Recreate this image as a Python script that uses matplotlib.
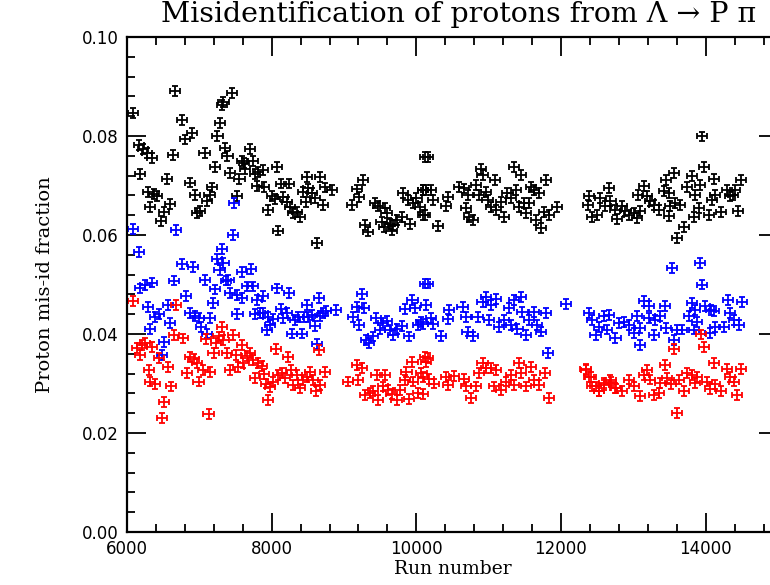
import numpy as np
import matplotlib
matplotlib.use("Agg")
import matplotlib.pyplot as plt
from matplotlib.ticker import MultipleLocator

# run number / mis-id fraction
black_run = [6083, 6161, 6221, 6276, 6345, 6184, 6285, 6368, 6414, 6313, 6506, 6598, 6469, 6552, 6635,
             6667, 6759, 6805, 6897, 6865, 6943, 6966, 7012, 7072, 7104, 7141, 7173, 7219, 7251, 7288,
             7311, 7334, 7454, 7357, 7389, 7426, 7518, 7555, 7587, 7619, 7702, 7739, 7633, 7771, 7817,
             7877, 7794, 7895, 8070, 7955, 8001, 8047, 8125, 8245, 8162, 8208, 8254, 8300, 8346, 8392,
             8093, 8484, 8438, 8507, 8553, 8599, 8475, 8668, 8737, 8705, 8829, 8622,
             9105, 9174, 9266, 9211, 9289, 9335, 9427, 9473, 9565, 9588, 9519, 9551, 9634, 9680, 9657,
             9726, 9795, 9910, 9818, 9887, 9956, 10002, 10048, 10094, 10117, 10117,
             10156, 10087, 10133, 10202, 10225, 10087, 10294, 10432, 10409, 10593, 10662, 10708, 10685,
             10731, 10777, 10823, 10892, 10915, 10869, 10961, 10984, 11030, 11090, 11099, 11168, 11214,
             11260, 11306, 11352, 11375, 11421, 11444, 11490, 11513, 11559, 11582, 11628, 11697, 11651,
             11720, 11789, 11766, 11835, 11950,
             12385, 12376, 12431, 12500, 12546, 12661, 12615, 12684, 12753, 12776, 12845, 12891, 12937,
             13006, 13052, 13098, 13066, 13144, 13190, 13236, 13282, 13351, 13420, 13452, 13558, 13489,
             13512, 13498, 13581, 13650, 13604, 13696, 13742, 13811, 13857, 13834, 13903, 13926, 13949,
             13972, 14041, 14087, 14110, 14133, 14216, 14294, 14340, 14372, 14400, 14446, 14492]
black_val = [0.0846, 0.0782, 0.0773, 0.0765, 0.0756, 0.0724, 0.0686, 0.0683, 0.0679, 0.0657, 0.0647, 0.0662,
             0.0629, 0.0713, 0.0761, 0.0891, 0.0832, 0.0793, 0.0806, 0.0706, 0.0681, 0.0645, 0.0649, 0.0765,
             0.0669, 0.0681, 0.0696, 0.0738, 0.0800, 0.0827, 0.0862, 0.0869, 0.0887, 0.0775, 0.0759, 0.0726,
             0.0679, 0.0713, 0.0750, 0.0745, 0.0773, 0.0750, 0.0734, 0.0724, 0.0728, 0.0731, 0.0699, 0.0697,
             0.0738, 0.0650, 0.0679, 0.0672, 0.0704, 0.0704, 0.0677, 0.0667, 0.0657, 0.0644, 0.0647, 0.0637,
             0.0609, 0.0718, 0.0687, 0.0694, 0.0684, 0.0674, 0.0667, 0.0718, 0.0696, 0.0660, 0.0691, 0.0584,
             0.0660, 0.0692, 0.0711, 0.0676, 0.0620, 0.0607, 0.0665, 0.0658, 0.0654, 0.0644, 0.0627, 0.0617,
             0.0623, 0.0620, 0.0609, 0.0630, 0.0637, 0.0623, 0.0684, 0.0670, 0.0664, 0.0674, 0.0657, 0.0691,
             0.0758, 0.0640,
             0.0758, 0.0691, 0.0691, 0.0691, 0.0670, 0.0640, 0.0618, 0.0677, 0.0658, 0.0697, 0.0694, 0.0681,
             0.0654, 0.0637, 0.0630, 0.0701, 0.0734, 0.0721, 0.0681, 0.0687, 0.0670, 0.0657, 0.0711, 0.0650,
             0.0667, 0.0637, 0.0684, 0.0674, 0.0738, 0.0691, 0.0657, 0.0721, 0.0664, 0.0644, 0.0664, 0.0697,
             0.0691, 0.0684, 0.0630, 0.0615, 0.0711, 0.0647, 0.0640, 0.0657,
             0.0678, 0.0661, 0.0637, 0.0641, 0.0674, 0.0695, 0.0658, 0.0668, 0.0651, 0.0632, 0.0658, 0.0648,
             0.0641, 0.0644, 0.0634, 0.0648, 0.0681, 0.0699, 0.0678, 0.0668, 0.0661, 0.0651, 0.0688, 0.0711,
             0.0725, 0.0685, 0.0658, 0.0639, 0.0664, 0.0661, 0.0594, 0.0617, 0.0697, 0.0720, 0.0681, 0.0636,
             0.0654, 0.0701, 0.0799, 0.0738, 0.0641, 0.0671, 0.0713, 0.0681, 0.0646, 0.0691, 0.0678, 0.0681,
             0.0690, 0.0648, 0.0711]

blue_run = [6083, 6161, 6184, 6253, 6345, 6285, 6391, 6437, 6322, 6506, 6483, 6561, 6598, 6644, 6681,
            6759, 6819, 6911, 6874, 6943, 6989, 7021, 7081, 7104, 7141, 7187, 7219, 7242, 7279, 7311,
            7334, 7371, 7403, 7463, 7481, 7426, 7518, 7587, 7527, 7587, 7711, 7656, 7739, 7771, 7794,
            7886, 7840, 7886, 7955, 7932, 7978, 8024, 8070, 8125, 8162, 8208, 8245, 8277, 8323, 8369,
            8415, 8447, 8493, 8507, 8553, 8599, 8659, 8668, 8714, 8751, 8631, 8889,
            9128, 9174, 9211, 9243, 9275, 9303, 9349, 9404, 9441, 9496, 9542, 9588, 9634, 9680, 9726,
            9795, 9841, 9901, 9947, 9979, 10025, 10071, 10117,
            10156, 10133, 10087, 10202, 10225, 10340, 10432, 10455, 10639, 10685, 10708, 10777, 10846,
            10915, 10961, 11030, 11099, 11007, 11145, 11214, 11283, 11352, 11444, 11306, 11398, 11467,
            11513, 11559, 11628, 11674, 11720, 11789, 11826, 12074,
            12385, 12431, 12477, 12523, 12592, 12661, 12638, 12753, 12799, 12868, 12937, 13006, 13052,
            13098, 13098, 13144, 13213, 13213, 13282, 13305, 13374, 13443, 13452, 13535, 13558, 13604,
            13673, 13765, 13811, 13857, 13880, 13834, 13926, 13949, 13995, 14078, 14110, 14064, 14133,
            14248, 14308, 14340, 14386, 14455, 14501]
blue_val = [0.0613, 0.0566, 0.0492, 0.0499, 0.0504, 0.0455, 0.0435, 0.0440, 0.0411, 0.0384, 0.0357, 0.0459,
            0.0423, 0.0508, 0.0611, 0.0541, 0.0477, 0.0536, 0.0442, 0.0436, 0.0432, 0.0415, 0.0510, 0.0401,
            0.0432, 0.0462, 0.0490, 0.0551, 0.0529, 0.0572, 0.0543, 0.0508, 0.0510, 0.0600, 0.0665, 0.0483,
            0.0479, 0.0472, 0.0440, 0.0526, 0.0531, 0.0496, 0.0496, 0.0440, 0.0469, 0.0477, 0.0443, 0.0443,
            0.0435, 0.0408, 0.0418, 0.0430, 0.0492, 0.0450, 0.0432, 0.0443, 0.0483, 0.0401, 0.0428, 0.0435,
            0.0401, 0.0435, 0.0459, 0.0435, 0.0438, 0.0416, 0.0472, 0.0436, 0.0442, 0.0447, 0.0380, 0.0448,
            0.0435, 0.0454, 0.0418, 0.0481, 0.0452, 0.0387, 0.0381, 0.0395, 0.0432, 0.0409, 0.0422, 0.0427,
            0.0408, 0.0398, 0.0411, 0.0416, 0.0450, 0.0395, 0.0469, 0.0452, 0.0418, 0.0425, 0.0502,
            0.0502, 0.0458, 0.0421, 0.0432, 0.0421, 0.0396, 0.0430, 0.0448, 0.0455, 0.0434, 0.0405, 0.0395,
            0.0435, 0.0465, 0.0475, 0.0458, 0.0470, 0.0428, 0.0415, 0.0428, 0.0452, 0.0469, 0.0475, 0.0418,
            0.0411, 0.0445, 0.0398, 0.0428, 0.0445, 0.0418, 0.0405, 0.0442, 0.0362, 0.0460,
            0.0442, 0.0429, 0.0398, 0.0415, 0.0436, 0.0439, 0.0409, 0.0392, 0.0422, 0.0425, 0.0419, 0.0402,
            0.0436, 0.0378, 0.0412, 0.0466, 0.0456, 0.0432, 0.0398, 0.0429, 0.0436, 0.0456, 0.0412, 0.0533,
            0.0388, 0.0409, 0.0409, 0.0436, 0.0463, 0.0449, 0.0425, 0.0409, 0.0543, 0.0500, 0.0456, 0.0449,
            0.0446, 0.0402, 0.0415, 0.0415, 0.0469, 0.0442, 0.0429, 0.0419, 0.0464]

red_run = [6083, 6138, 6207, 6253, 6184, 6345, 6299, 6322, 6391, 6437, 6515, 6483, 6561, 6607, 6644,
           6681, 6773, 6828, 6874, 6920, 6966, 6989, 7049, 7095, 7127, 7150, 7196, 7233, 7265, 7311,
           7334, 7380, 7426, 7472, 7509, 7541, 7587, 7610, 7656, 7702, 7739, 7771, 7817, 7863, 7895,
           7955, 7923, 7978, 8024, 8061, 8093, 8139, 8185, 8231, 8263, 8300, 8346, 8392, 8438, 8484,
           8530, 8567, 8613, 8659, 8668, 8737,
           9059, 9174, 9243, 9197, 9289, 9358, 9404, 9473, 9450, 9565, 9542, 9611, 9657, 9726, 9772,
           9841, 9901, 9864, 9947, 9956, 10025, 10071, 10117,
           10156, 10133, 10087, 10179, 10248, 10087, 10409, 10432, 10524, 10662, 10685, 10754, 10823,
           10869, 10915, 10961, 11030, 11099, 11076, 11168, 11237, 11306, 11352, 11421, 11444, 11513,
           11582, 11628, 11697, 11780, 11835,
           12341, 12387, 12433, 12525, 12594, 12686, 12755,
           12339, 12408, 12477, 12523, 12592, 12684, 12753, 12845, 12937, 13006, 13098, 13144, 13190,
           13236, 13282, 13351, 13374, 13434, 13466, 13526, 13558, 13604, 13627, 13696, 13742, 13811,
           13857, 13880, 13940, 13972, 14018, 14064, 14110, 14133, 14216, 14294, 14340, 14386, 14432,
           14492]
red_val = [0.0467, 0.0371, 0.0378, 0.0381, 0.0358, 0.0374, 0.0327, 0.0304, 0.0299, 0.0351, 0.0263, 0.0230,
           0.0334, 0.0294, 0.0398, 0.0459, 0.0391, 0.0321, 0.0353, 0.0349, 0.0341, 0.0304, 0.0327, 0.0389,
           0.0238, 0.0324, 0.0361, 0.0381, 0.0395, 0.0415, 0.0388, 0.0361, 0.0327, 0.0398, 0.0358, 0.0334,
           0.0378, 0.0341, 0.0356, 0.0361, 0.0348, 0.0311, 0.0341, 0.0335, 0.0319, 0.0267, 0.0300, 0.0292,
           0.0304, 0.0369, 0.0317, 0.0321, 0.0311, 0.0353, 0.0327, 0.0297, 0.0317, 0.0290, 0.0307, 0.0314,
           0.0324, 0.0307, 0.0284, 0.0368, 0.0297, 0.0324,
           0.0304, 0.0337, 0.0332, 0.0307, 0.0277, 0.0280, 0.0284, 0.0267, 0.0317, 0.0317, 0.0294, 0.0287,
           0.0279, 0.0267, 0.0287, 0.0307, 0.0268, 0.0324, 0.0344, 0.0304, 0.0280, 0.0322, 0.0354,
           0.0351, 0.0344, 0.0314, 0.0310, 0.0300, 0.0279, 0.0314, 0.0297, 0.0315, 0.0310, 0.0294, 0.0270,
           0.0294, 0.0321, 0.0341, 0.0331, 0.0331, 0.0327, 0.0294, 0.0287, 0.0304, 0.0317, 0.0297, 0.0341,
           0.0321, 0.0294, 0.0334, 0.0307, 0.0297, 0.0321, 0.0270,
           0.0327, 0.0314, 0.0294, 0.0284, 0.0297, 0.0304, 0.0290,
           0.0329, 0.0314, 0.0294, 0.0284, 0.0301, 0.0308, 0.0291, 0.0284, 0.0308, 0.0294, 0.0274, 0.0318,
           0.0328, 0.0308, 0.0277, 0.0281, 0.0301, 0.0338, 0.0311, 0.0298, 0.0370, 0.0240, 0.0308, 0.0284,
           0.0321, 0.0318, 0.0301, 0.0314, 0.0399, 0.0374, 0.0304, 0.0288, 0.0341, 0.0298, 0.0284, 0.0329,
           0.0314, 0.0304, 0.0277, 0.0329]

XERR = 70      # half width of the run bin
YERR = 0.0010  # statistical error on the fraction

fig = plt.figure(figsize=(7.7, 5.85), dpi=100)
ax = fig.add_axes([127 / 770, 53 / 585, 651 / 770, 495 / 585])

for runs, vals, col in [(black_run, black_val, "black"),
                        (blue_run, blue_val, "blue"),
                        (red_run, red_val, "red")]:
    ax.errorbar(runs, vals, xerr=XERR, yerr=YERR, fmt="none", ecolor=col,
                elinewidth=1.3, capsize=2.5, capthick=1.3)

ax.set_xlim(6000, 15000)
ax.set_ylim(0.0, 0.10)
ax.xaxis.set_major_locator(MultipleLocator(2000))
ax.xaxis.set_minor_locator(MultipleLocator(400))
ax.yaxis.set_major_locator(MultipleLocator(0.02))
ax.yaxis.set_minor_locator(MultipleLocator(0.004))
ax.yaxis.set_major_formatter(plt.FormatStrFormatter("%.2f"))

ax.tick_params(which="both", direction="in", top=True, right=True, width=1.3,
               labelsize=12, pad=6, colors="black")
ax.tick_params(which="major", length=14)
ax.tick_params(which="minor", length=6)
for sp in ax.spines.values():
    sp.set_linewidth(1.6)

serif = "DejaVu Serif"
ax.set_xlabel("Run number", fontsize=13.5, family=serif, labelpad=1)
ax.set_ylabel("Proton mis-id fraction", fontsize=14, family=serif, labelpad=20)
fig.text(0.596, 0.975, "Misidentification of protons from \u039b \u2192 P \u03c0",
         fontsize=20.5, family=serif, ha="center", va="center")

fig.savefig("out.png", dpi=100)
